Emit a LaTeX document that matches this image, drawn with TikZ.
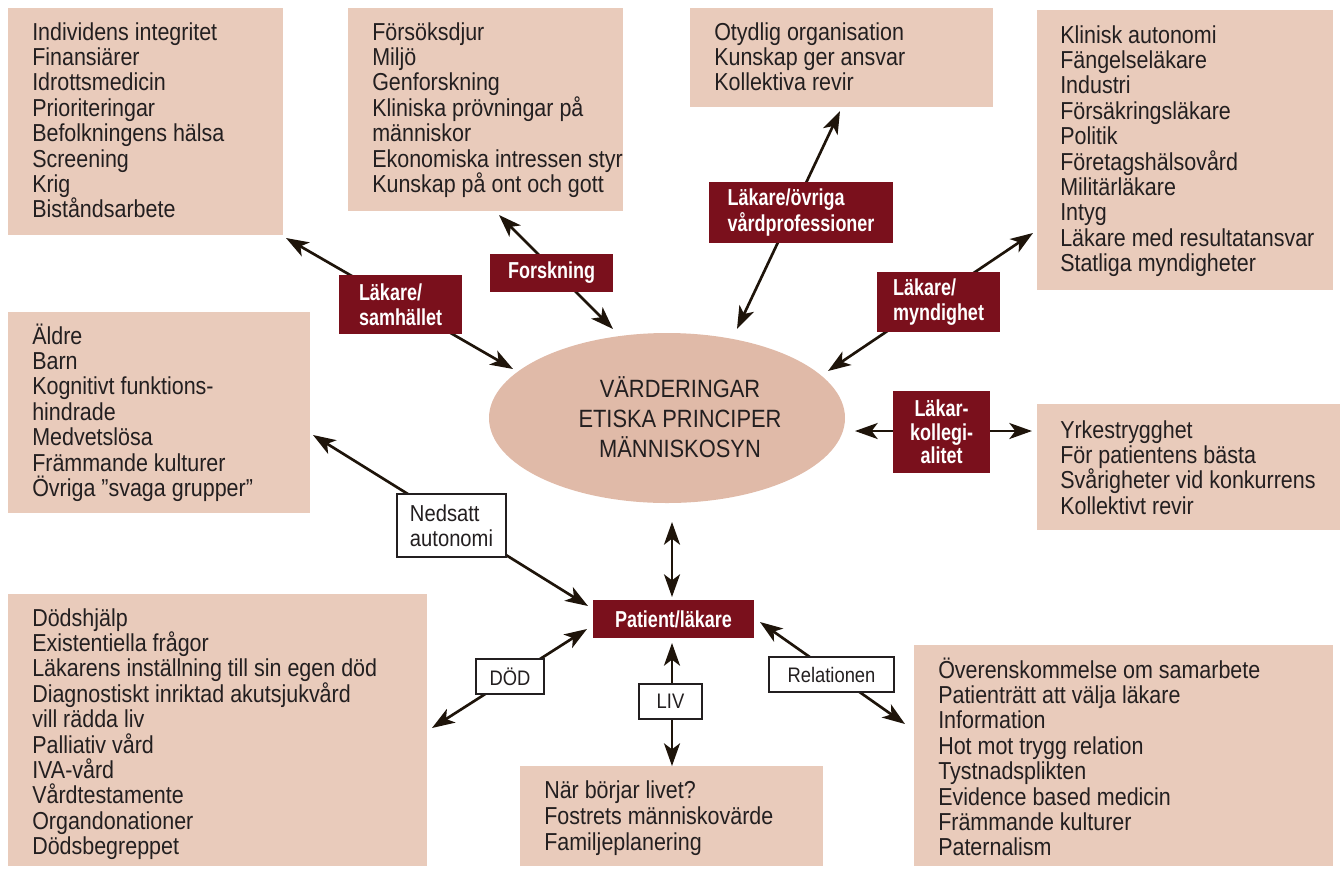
\documentclass[tikz,border=0pt]{standalone}
\usepackage{fontspec}
\setmainfont{Liberation Sans}[FakeStretch=0.875]
\newfontfamily\labfont{Liberation Sans}[FakeStretch=0.78]
\usetikzlibrary{shapes.geometric,arrows.meta}
\definecolor{pinkc}{HTML}{E9CBBB}
\definecolor{ellc}{HTML}{E0BAA8}
\definecolor{darkc}{HTML}{7A101C}
\definecolor{arrc}{HTML}{1E140A}
\definecolor{textc}{HTML}{231F20}
\tikzset{
  pinkbox/.style={fill=pinkc, draw=none, anchor=north west, inner sep=0pt},
  txt/.style={anchor=base west, inner sep=0pt, align=left, text=textc, font=\fontsize{18.4}{19.05}\selectfont},
  darkbox/.style={fill=darkc, draw=none, inner sep=0pt, text=white, font=\labfont\bfseries\fontsize{17.3}{18.8}\selectfont},
  whitebox/.style={fill=white, draw=textc, line width=0.9pt, inner sep=0pt, text=textc, font=\fontsize{15.75}{18}\selectfont},
  arr/.style={draw=arrc, line width=2pt, arrows={Stealth[length=17pt,width=12pt,inset=4.5pt]-Stealth[length=17pt,width=12pt,inset=4.5pt]}}
}
\begin{document}
\begin{tikzpicture}[x=0.75pt,y=-0.75pt]
\useasboundingbox (0,0) rectangle (1340,869);
% pink boxes
\node[pinkbox, minimum width=206.25pt, minimum height=170.25pt] (b1) at (8,8) {};
\node[pinkbox, minimum width=206.25pt, minimum height=152.25pt] (b2) at (348,8) {};
\node[pinkbox, minimum width=227.25pt, minimum height=74.25pt] (b3) at (690,8) {};
\node[pinkbox, minimum width=222pt, minimum height=210pt] (b4) at (1037,10) {};
\node[pinkbox, minimum width=226.5pt, minimum height=150.75pt] (b5) at (8,312) {};
\node[pinkbox, minimum width=227.25pt, minimum height=94.5pt] (b6) at (1037,404) {};
\node[pinkbox, minimum width=314.25pt, minimum height=204pt] (b7) at (8,594) {};
\node[pinkbox, minimum width=227.25pt, minimum height=75pt] (b8) at (520,766) {};
\node[pinkbox, minimum width=314.25pt, minimum height=165.75pt] (b9) at (914,645) {};
% texts (anchored at the baseline of the last line)
\node[txt] (t1) at (32,217.8) {Individens integritet\\Finansiärer\\Idrottsmedicin\\Prioriteringar\\Befolkningens hälsa\\Screening\\Krig\\Biståndsarbete};
\node[txt] (t2) at (372,192.4) {Försöksdjur\\Miljö\\Genforskning\\Kliniska prövningar på\\människor\\Ekonomiska intressen styr\\Kunskap på ont och gott};
\node[txt] (t3) at (714,90.8) {Otydlig organisation\\Kunskap ger ansvar\\Kollektiva revir};
\node[txt] (t4) at (1060,271.6) {Klinisk autonomi\\Fängelseläkare\\Industri\\Försäkringsläkare\\Politik\\Företagshälsovård\\Militärläkare\\Intyg\\Läkare med resultatansvar\\Statliga myndigheter};
\node[txt] (t5) at (32,496.4) {Äldre\\Barn\\Kognitivt funktions-\\hindrade\\Medvetslösa\\Främmande kulturer\\Övriga ”svaga grupper”};
\node[txt] (t6) at (1060,514.2) {Yrkestrygghet\\För patientens bästa\\Svårigheter vid konkurrens\\Kollektivt revir};
\node[txt] (t7) at (32,854.6) {Dödshjälp\\Existentiella frågor\\Läkarens inställning till sin egen död\\Diagnostiskt inriktad akutsjukvård\\vill rädda liv\\Palliativ vård\\IVA-vård\\Vårdtestamente\\Organdonationer\\Dödsbegreppet};
\node[txt, font=\fontsize{18.4}{19.8}\selectfont] (t8) at (544,850.8) {När börjar livet?\\Fostrets människovärde\\Familjeplanering};
\node[txt] (t9) at (938,855.8) {Överenskommelse om samarbete\\Patienträtt att välja läkare\\Information\\Hot mot trygg relation\\Tystnadsplikten\\Evidence based medicin\\Främmande kulturer\\Paternalism};
% central ellipse
\node[ellipse, fill=ellc, draw=none, minimum width=267pt, minimum height=127.5pt, inner sep=0pt] (c) at (667,418) {};
\node[align=center, inner sep=0pt, text=textc, font=\fontsize{18.75}{22.5}\selectfont] (ct) at (680,417) {VÄRDERINGAR\\ETISKA PRINCIPER\\MÄNNISKOSYN};
% arrow end points
\coordinate (a1s) at (286,238); \coordinate (a1e) at (513,369);
\coordinate (a2s) at (499,215); \coordinate (a2e) at (613,329);
\coordinate (a3s) at (840,111); \coordinate (a3e) at (737,329);
\coordinate (a4s) at (1033,233); \coordinate (a4e) at (828,371);
\coordinate (a5s) at (855,431); \coordinate (a5e) at (1032,431);
\coordinate (a6s) at (313,435); \coordinate (a6e) at (588,606);
\coordinate (a7s) at (672,522); \coordinate (a7e) at (672,597);
\coordinate (a8s) at (587,629); \coordinate (a8e) at (432,728);
\coordinate (a9s) at (672,643); \coordinate (a9e) at (672,766);
\coordinate (a10s) at (760,622); \coordinate (a10e) at (905,724);
\draw[arr] (a1s) -- (a1e);
\draw[arr] (a2s) -- (a2e);
\draw[arr] (a3s) -- (a3e);
\draw[arr] (a4s) -- (a4e);
\draw[arr] (a5s) -- (a5e);
\draw[arr] (a6s) -- (a6e);
\draw[arr] (a7s) -- (a7e);
\draw[arr] (a8s) -- (a8e);
\draw[arr] (a9s) -- (a9e);
\draw[arr] (a10s) -- (a10e);
% dark label boxes
\node[darkbox, minimum width=92.25pt, minimum height=44.25pt, align=left] (l1) at (400.5,304.5) {Läkare/\\samhället};
\node[darkbox, minimum width=92.25pt, minimum height=28.5pt] (l2) at (551.5,273) {Forskning};
\node[darkbox, minimum width=138pt, minimum height=45.75pt, align=left] (l3) at (801,212.5) {Läkare/övriga\\vårdprofessioner};
\node[darkbox, minimum width=92.25pt, minimum height=45pt, align=left] (l4) at (938.5,302) {Läkare/\\myndighet};
\node[darkbox, minimum width=72.75pt, minimum height=61.5pt, align=center, font=\labfont\bfseries\fontsize{17.3}{17.6}\selectfont] (l5) at (941.5,432) {Läkar-\\kollegi-\\alitet};
\node[darkbox, minimum width=120.75pt, minimum height=28.5pt] (p) at (673.5,619) {Patient/läkare};
% white label boxes
\node[whitebox, minimum width=81.75pt, minimum height=47.25pt, align=left, font=\fontsize{17.3}{19}\selectfont] (w1) at (451.5,525.5) {Nedsatt\\autonomi};
\node[whitebox, minimum width=51pt, minimum height=26.25pt] (w2) at (510,676.5) {DÖD};
\node[whitebox, minimum width=47.25pt, minimum height=26.25pt] (w3) at (670.5,701.5) {LIV};
\node[whitebox, minimum width=93.75pt, minimum height=26.25pt] (w4) at (831.5,674.5) {Relationen};
\end{tikzpicture}
\end{document}
